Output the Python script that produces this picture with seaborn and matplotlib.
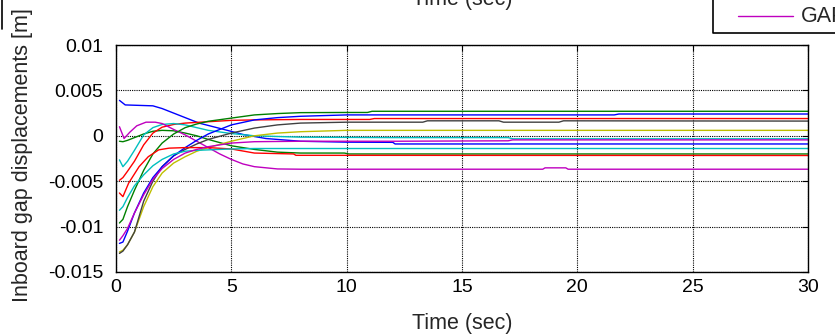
import numpy as np
import pandas as pd
import seaborn as sns
import matplotlib
matplotlib.use("Agg")
import matplotlib.pyplot as plt
from matplotlib.lines import Line2D

# gap displacement traces, values in mm (scaled to m below)
gap_names = ["GAP1", "GAP2", "GAP3", "GAP4", "GAP5", "GAP6",
             "GAP7", "GAP8", "GAP9", "GAP10", "GAP11", "GAP12"]

t_gap1 = [0.15, 0.4, 1.0, 1.6, 2.0, 2.7, 3.6, 4.6, 5.5, 6.5, 8, 10, 12, 12.1, 30]
v_gap1 = [3.9, 3.4, 3.35, 3.3, 3.0, 2.3, 1.4, 0.75, 0.15, -0.3, -0.6, -0.7, -0.72, -0.9, -0.9]

t_gap2 = [0.15, 0.3, 0.5, 0.8, 1.2, 1.6, 2.0, 2.5, 3.0, 3.5, 4.0, 5.0, 6.0, 7.0, 8.0, 9.9, 10.1, 30]
v_gap2 = [-0.6, -0.65, -0.5, -0.2, 0.2, 0.5, 0.6, 0.55, 0.3, 0.0, -0.4, -1.1, -1.5, -1.8, -1.9, -1.9, -2.0, -2.0]

t_gap3 = [0.15, 0.3, 0.5, 0.8, 1.2, 1.6, 2.0, 2.5, 3.0, 4.0, 5.0, 6.0, 8, 11, 11.2, 30]
v_gap3 = [-4.9, -4.6, -3.9, -2.8, -1.0, 0.3, 0.95, 1.25, 1.4, 1.55, 1.7, 1.75, 1.8, 1.8, 1.9, 1.9]

t_gap4 = [0.15, 0.3, 0.5, 0.8, 1.2, 1.6, 2.0, 2.5, 3.0, 3.5, 4.0, 5.0, 6.0, 8, 12, 17, 17.2, 30]
v_gap4 = [-2.65, -3.4, -2.8, -1.6, 0.1, 0.9, 1.25, 1.35, 1.2, 0.9, 0.6, 0.25, 0.0, -0.15, -0.2, -0.2, -0.33, -0.33]

t_gap5 = [0.15, 0.35, 0.6, 0.9, 1.3, 1.7, 2.0, 2.5, 3.0, 3.5, 4.0, 4.5, 5.0, 5.5, 6.0, 7.0, 8,
          18.5, 18.6, 19.5, 19.6, 30]
v_gap5 = [1.0, -0.3, 0.4, 1.1, 1.5, 1.5, 1.35, 0.7, 0.1, -0.6, -1.3, -2.0, -2.6, -3.1, -3.4, -3.65, -3.68,
          -3.68, -3.53, -3.53, -3.68, -3.68]

t_gap6 = [0.15, 0.3, 0.5, 0.8, 1.2, 1.6, 2.0, 2.5, 3.0, 3.5, 4.0, 5.0, 6.0, 7.0, 8.0, 10, 30]
v_gap6 = [-12.8, -12.6, -12.0, -10.6, -7.8, -5.6, -4.1, -3.0, -2.3, -1.7, -1.3, -0.6, 0.0, 0.3, 0.45, 0.6, 0.6]

t_gap7 = [0.15, 0.3, 0.5, 0.8, 1.2, 1.6, 2.0, 2.5, 3.0, 3.5, 4.0, 5.0, 6.0, 7.0, 8.0, 10, 13.3, 13.5,
          16.6, 16.8, 19.2, 19.4, 30]
v_gap7 = [-12.95, -12.7, -12.0, -10.6, -7.2, -5.0, -3.4, -2.2, -1.5, -0.9, -0.4, 0.3, 0.85, 1.2, 1.4, 1.5, 1.5, 1.65,
          1.65, 1.5, 1.5, 1.65, 1.62]

t_gap8 = [0.15, 0.3, 0.5, 0.8, 1.2, 1.6, 2.0, 2.5, 3.0, 3.5, 4.0, 5.0, 6.0, 7.0, 8.0, 10, 21.6, 21.8, 30]
v_gap8 = [-11.85, -11.7, -10.5, -8.5, -6.3, -4.6, -3.4, -2.2, -1.3, -0.5, 0.2, 1.2, 1.75, 2.0, 2.15, 2.3, 2.3, 2.4, 2.4]

t_gap9 = [0.15, 0.3, 0.5, 0.8, 1.2, 1.6, 2.0, 2.5, 3.0, 3.5, 4.0, 5.0, 6.0, 7.0, 8.0, 10, 10.9, 11.1, 30]
v_gap9 = [-9.6, -9.2, -7.8, -6.0, -3.8, -2.0, -0.8, 0.2, 0.9, 1.3, 1.6, 1.95, 2.3, 2.45, 2.55, 2.57, 2.57, 2.7, 2.7]

t_gap10 = [0.15, 0.3, 0.55, 1.0, 1.4, 1.85, 2.3, 3.0, 4.0, 5.0, 6.0, 7.7, 7.8, 30]
v_gap10 = [-6.3, -6.7, -5.2, -3.4, -2.3, -1.55, -1.36, -1.3, -1.3, -1.45, -1.9, -2.0, -2.15, -2.17]

t_gap11 = [0.15, 0.3, 0.5, 0.8, 1.2, 1.6, 2.0, 2.5, 3.0, 3.5, 4.0, 5.0, 6.0, 8, 30]
v_gap11 = [-8.2, -7.8, -6.8, -5.5, -4.3, -3.3, -2.6, -2.0, -1.7, -1.6, -1.55, -1.45, -1.4, -1.4, -1.4]

t_gap12 = [0.15, 0.3, 0.5, 0.8, 1.2, 1.6, 2.0, 2.5, 3.0, 3.5, 4.0, 5.0, 6.0, 8, 12, 17, 17.2, 30]
v_gap12 = [-11.5, -11.0, -10.2, -8.5, -6.5, -4.8, -3.6, -2.6, -1.9, -1.5, -1.2, -0.8, -0.65, -0.6, -0.6, -0.55, -0.45, -0.45]

gap_times = [t_gap1, t_gap2, t_gap3, t_gap4, t_gap5, t_gap6,
             t_gap7, t_gap8, t_gap9, t_gap10, t_gap11, t_gap12]
gap_values = [v_gap1, v_gap2, v_gap3, v_gap4, v_gap5, v_gap6,
              v_gap7, v_gap8, v_gap9, v_gap10, v_gap11, v_gap12]

y_ticks = [-0.015, -0.01, -0.005, 0, 0.005, 0.01]
y_tick_labels = ["-0.015", "-0.01", "-0.005", "0", "0.005", "0.01"]
x_ticks = [0, 5, 10, 15, 20, 25, 30]

# old matlab color order
matlab_colors = [(0, 0, 1), (0, 0.5, 0), (1, 0, 0), (0, 0.75, 0.75),
                 (0.75, 0, 0.75), (0.75, 0.75, 0), (0.25, 0.25, 0.25)]


def main():
    rows = []
    for name, ts, vs in zip(gap_names, gap_times, gap_values):
        for t, v in zip(ts, vs):
            rows.append({"gap": name, "t": t, "v": v / 1000.0})
    df = pd.DataFrame(rows)

    palette = {name: matlab_colors[i % 7] for i, name in enumerate(gap_names)}

    sns.set_style("white")
    plt.rcParams["font.family"] = ["Liberation Sans", "DejaVu Sans"]

    fig = plt.figure(figsize=(8.35, 3.35), dpi=100)
    ax = fig.add_axes([116 / 835, 1 - 272 / 335, 692 / 835, 227 / 335])

    sns.lineplot(data=df, x="t", y="v", hue="gap", palette=palette,
                 estimator=None, sort=False, legend=False, linewidth=1.0, ax=ax)

    ax.set_xlim(0, 30)
    ax.set_ylim(-0.015, 0.01)
    ax.set_xticks(x_ticks)
    ax.set_xticklabels([str(x) for x in x_ticks])
    ax.set_yticks(y_ticks)
    ax.set_yticklabels(y_tick_labels)
    ax.grid(True, color="k", linestyle=(0, (1, 1)), linewidth=0.8)
    ax.tick_params(direction="in", length=4, width=0.8, top=True, right=True,
                   labelsize=14, colors="k", pad=5)
    ax.tick_params(axis="y", pad=9)
    for sp in ax.spines.values():
        sp.set_color("k")
        sp.set_linewidth(1.0)
    ax.set_xlabel("Time (sec)", fontsize=15.5, labelpad=12)
    ax.set_ylabel("")
    fig.text(23 / 835, 1 - 155 / 335, "Inboard gap displacements [m]", rotation=90,
             fontsize=15.5, ha="center", va="center")

    # bits of the subplot above that were cropped
    fig.text(462 / 835, 1 - 10 / 335, "Time (sec)", fontsize=15.5, ha="center", va="bottom")
    fig.add_artist(Line2D([713 / 835, 713 / 835, 1.0], [1.0, 1 - 33 / 335, 1 - 33 / 335],
                          color="k", linewidth=1.2, transform=fig.transFigure))
    fig.add_artist(Line2D([738 / 835, 793 / 835], [1 - 16 / 335, 1 - 16 / 335],
                          color=matlab_colors[4], linewidth=1.0, transform=fig.transFigure))
    fig.text(801 / 835, 1 - 17 / 335, "GAP12", fontsize=15.5, ha="left", va="center")
    fig.add_artist(Line2D([1.5 / 835, 1.5 / 835], [1.0, 1 - 29 / 335],
                          color="k", linewidth=1.2, transform=fig.transFigure))

    fig.savefig("out.png", dpi=100)


if __name__ == "__main__":
    main()
